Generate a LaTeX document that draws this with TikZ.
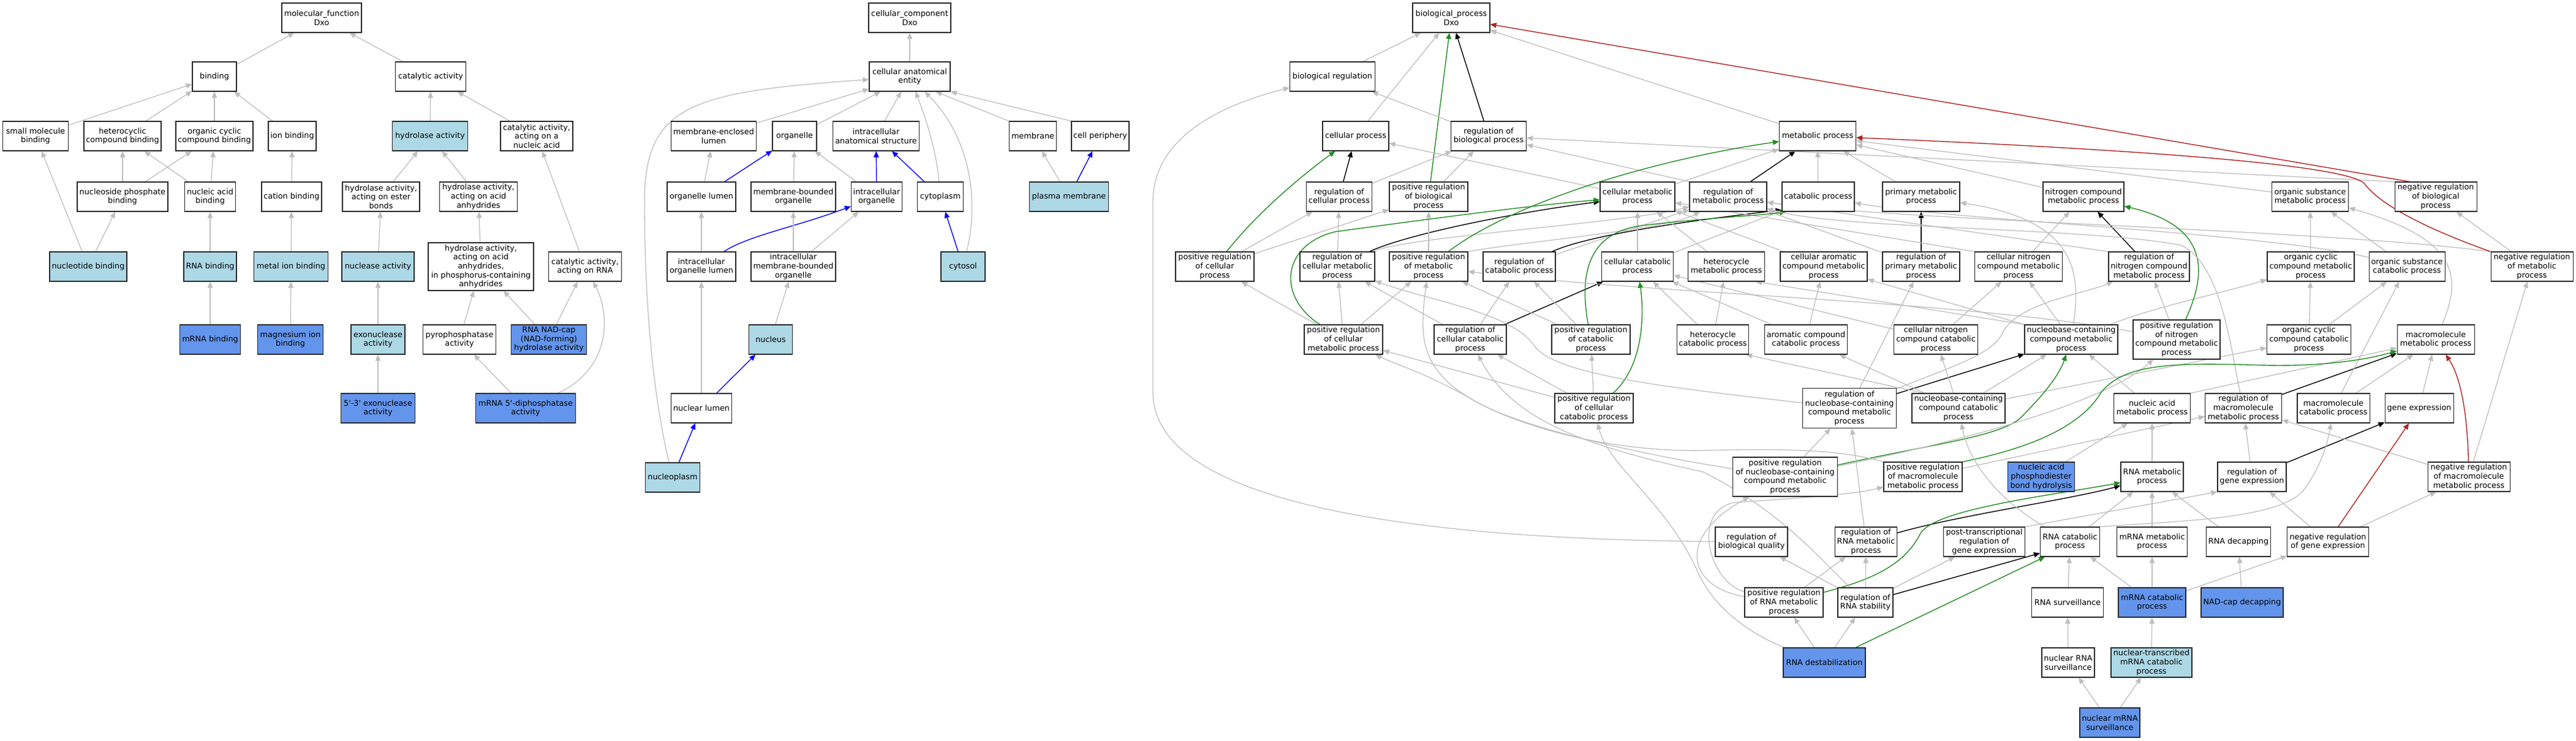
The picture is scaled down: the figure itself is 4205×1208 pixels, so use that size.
\documentclass[tikz,border=0pt]{standalone}
\usepackage{fontspec}
\newfontfamily\gvfam{DejaVu Sans}
\usetikzlibrary{arrows.meta}
\definecolor{egray}{RGB}{190,190,190}
\definecolor{lbcol}{RGB}{173,216,230}
\definecolor{dbcol}{RGB}{100,149,237}
\definecolor{fgreen}{RGB}{34,139,34}
\definecolor{fred}{RGB}{178,34,34}
\definecolor{pblue}{RGB}{0,0,255}
\definecolor{bord}{RGB}{40,40,40}
\newcommand\gvf{\gvfam\fontsize{12.8pt}{14.6pt}\selectfont}
\pgfdeclarelayer{bgl}
\pgfdeclarelayer{edges}
\pgfsetlayers{bgl,edges,main}
\tikzset{
 gn/.style={draw=bord, line width=1.1pt, fill=white, rectangle, align=center, inner sep=1pt, minimum height=48pt, font=\gvf},
 lb/.style={fill=lbcol},
 db/.style={fill=dbcol},
 bw/.style={minimum width=#1pt},
 bh/.style={minimum height=#1pt},
 tipa/.style={-{Triangle[length=10pt,width=8.5pt]}},
 isa/.style={draw=egray, line width=1.3pt, tipa},
 pof/.style={draw=pblue, line width=1.4pt, tipa},
 rgl/.style={draw=black, line width=1.4pt, tipa},
 prg/.style={draw=fgreen, line width=1.4pt, tipa},
 nrg/.style={draw=fred, line width=1.4pt, tipa}
}
\begin{document}
\begin{tikzpicture}[x=1pt,y=-1pt]
\useasboundingbox (0,0) rectangle (4205,1208);
\begin{pgfonlayer}{bgl}\fill[white] (0,0) rectangle (4205,1208);\end{pgfonlayer}
% ---------------- molecular function
\node[gn,bw=130] (mf) at (525,29) {molecular\_function\\Dxo};
\node[gn,bw=72] (binding) at (350,125) {binding};
\node[gn,bw=115] (catact) at (703,125) {catalytic activity};
\node[gn,bw=107] (smb) at (58,222) {small molecule\\binding};
\node[gn,bw=126] (hcb) at (200,222) {heterocyclic\\compound binding};
\node[gn,bw=126] (occb) at (350,222) {organic cyclic\\compound binding};
\node[gn,bw=78] (ionb) at (477,222) {ion binding};
\node[gn,lb,bw=123] (hydro) at (702,222) {hydrolase activity};
\node[gn,bw=118] (canuc) at (876,222) {catalytic activity,\\acting on a\\nucleic acid};
\node[gn,bw=148] (npb) at (200,321) {nucleoside phosphate\\binding};
\node[gn,bw=83] (nab) at (343,321) {nucleic acid\\binding};
\node[gn,bw=98] (catb) at (476,321) {cation binding};
\node[gn,bw=126] (hester) at (622,321) {hydrolase activity,\\acting on ester\\bonds};
\node[gn,bw=127] (hacid) at (781,321) {hydrolase activity,\\acting on acid\\anhydrides};
\node[gn,lb,bw=126] (ntb) at (144,435) {nucleotide binding};
\node[gn,lb,bw=86] (rnab) at (343,435) {RNA binding};
\node[gn,lb,bw=121] (mib) at (475,435) {metal ion binding};
\node[gn,lb,bw=118] (nuclease) at (617,435) {nuclease activity};
\node[gn,bw=172,bh=78] (hphos) at (785,435) {hydrolase activity,\\acting on acid\\anhydrides,\\in phosphorus-containing\\anhydrides};
\node[gn,bw=119] (carna) at (955,435) {catalytic activity,\\acting on RNA};
\node[gn,db,bw=99] (mrnab) at (343,554) {mRNA binding};
\node[gn,db,bw=107] (mgb) at (474,554) {magnesium ion\\binding};
\node[gn,lb,bw=88] (exo) at (617,554) {exonuclease\\activity};
\node[gn,bw=119] (pyro) at (750,554) {pyrophosphatase\\activity};
\node[gn,db,bw=123] (nadcaph) at (896,554) {RNA NAD-cap\\(NAD-forming)\\hydrolase activity};
\node[gn,db,bw=121] (exo53) at (617,666) {5'-3' exonuclease\\activity};
\node[gn,db,bw=163] (mdiph) at (858,666) {mRNA 5'-diphosphatase\\activity};
% ---------------- cellular component
\node[gn,bw=134] (cc) at (1485,29) {cellular\_component\\Dxo};
\node[gn,bw=132] (cae) at (1485,125) {cellular anatomical\\entity};
\node[gn,bw=139] (mel) at (1165,222) {membrane-enclosed\\lumen};
\node[gn,bw=72] (organelle) at (1297,222) {organelle};
\node[gn,bw=141] (ias) at (1430,222) {intracellular\\anatomical structure};
\node[gn,bw=77] (membrane) at (1686,222) {membrane};
\node[gn,bw=94] (cellper) at (1796,222) {cell periphery};
\node[gn,bw=112] (olumen) at (1145,321) {organelle lumen};
\node[gn,bw=138] (mbo) at (1295,321) {membrane-bounded\\organelle};
\node[gn,bw=83] (io) at (1431,321) {intracellular\\organelle};
\node[gn,bw=75] (cytoplasm) at (1535,321) {cytoplasm};
\node[gn,lb,bw=129] (pm) at (1745,321) {plasma membrane};
\node[gn,bw=112] (iol) at (1145,435) {intracellular\\organelle lumen};
\node[gn,bw=138] (imbo) at (1295,435) {intracellular\\membrane-bounded\\organelle};
\node[gn,lb,bw=72] (cytosol) at (1572,435) {cytosol};
\node[gn,lb,bw=71] (nucleus) at (1258,554) {nucleus};
\node[gn,bw=99] (nlumen) at (1145,666) {nuclear lumen};
\node[gn,lb,bw=89] (nucleoplasm) at (1098,779) {nucleoplasm};
% ---------------- biological process
\node[gn,bw=126] (bp) at (2369,29) {biological\_process\\Dxo};
\node[gn,bw=139] (breg) at (2175,125) {biological regulation};
\node[gn,bw=108] (cp) at (2213,222) {cellular process};
\node[gn,bw=123] (rbp) at (2430,222) {regulation of\\biological process};
\node[gn,bw=125] (mp) at (2967,222) {metabolic process};
\node[gn,bw=107] (rcp) at (2186,321) {regulation of\\cellular process};
\node[gn,bw=128] (prbp) at (2332,321) {positive regulation\\of biological\\process};
\node[gn,bw=122] (cmp) at (2673,321) {cellular metabolic\\process};
\node[gn,bw=126] (rmp) at (2821,321) {regulation of\\metabolic process};
\node[gn,bw=118] (cat) at (2968,321) {catabolic process};
\node[gn,bw=126] (pmp) at (3136,321) {primary metabolic\\process};
\node[gn,bw=132] (ncmp) at (3401,321) {nitrogen compound\\metabolic process};
\node[gn,bw=125] (osmp) at (3771,321) {organic substance\\metabolic process};
\node[gn,bw=134] (nrbp) at (3976,321) {negative regulation\\of biological\\process};
\node[gn,bw=128] (prcp) at (1983,435) {positive regulation\\of cellular\\process};
\node[gn,bw=122] (rcmp) at (2183,435) {regulation of\\cellular metabolic\\process};
\node[gn,bw=128] (prmp) at (2332,435) {positive regulation\\of metabolic\\process};
\node[gn,bw=118] (rcat) at (2480,435) {regulation of\\catabolic process};
\node[gn,bw=117] (ccat) at (2673,435) {cellular catabolic\\process};
\node[gn,bw=125] (hmp) at (2818,435) {heterocycle\\metabolic process};
\node[gn,bw=142] (camp) at (2977,435) {cellular aromatic\\compound metabolic\\process};
\node[gn,bw=126] (rpmp) at (3136,435) {regulation of\\primary metabolic\\process};
\node[gn,bw=143] (cnmp) at (3295,435) {cellular nitrogen\\compound metabolic\\process};
\node[gn,bw=132] (rncmp) at (3508,435) {regulation of\\nitrogen compound\\metabolic process};
\node[gn,bw=142] (occmp) at (3772,435) {organic cyclic\\compound metabolic\\process};
\node[gn,bw=124] (oscat) at (3929,435) {organic substance\\catabolic process};
\node[gn,bw=134] (nrmp) at (4133,435) {negative regulation\\of metabolic\\process};
\node[gn,bw=128] (prcmp) at (2193,554) {positive regulation\\of cellular\\metabolic process};
\node[gn,bw=118] (rccat) at (2400,554) {regulation of\\cellular catabolic\\process};
\node[gn,bw=128] (prcat) at (2597,554) {positive regulation\\of catabolic\\process};
\node[gn,bw=117] (hcat) at (2796,554) {heterocycle\\catabolic process};
\node[gn,bw=135] (acat) at (2948,554) {aromatic compound\\catabolic process};
\node[gn,bw=137] (cncat) at (3160,554) {cellular nitrogen\\compound catabolic\\process};
\node[gn,bw=152] (nbmp) at (3381,554) {nucleobase-containing\\compound metabolic\\process};
\node[gn,bw=142,bh=64] (prncmp) at (3553,554) {positive regulation\\of nitrogen\\compound metabolic\\process};
\node[gn,bw=137] (occat) at (3769,554) {organic cyclic\\compound catabolic\\process};
\node[gn,bw=126] (mmp) at (3976,554) {macromolecule\\metabolic process};
\node[gn,bw=128] (prccat) at (2602,666) {positive regulation\\of cellular\\catabolic process};
\node[gn,bw=153,bh=65] (rnbmp) at (3019,666) {regulation of\\nucleobase-containing\\compound metabolic\\process};
\node[gn,bw=152] (nbcat) at (3197,666) {nucleobase-containing\\compound catabolic\\process};
\node[gn,bw=125] (namp) at (3513,666) {nucleic acid\\metabolic process};
\node[gn,bw=125] (rmmp) at (3662,666) {regulation of\\macromolecule\\metabolic process};
\node[gn,bw=118] (mcat) at (3809,666) {macromolecule\\catabolic process};
\node[gn,bw=112] (ge) at (3949,666) {gene expression};
\node[gn,bw=171,bh=64] (prnbmp) at (2914,778) {positive regulation\\of nucleobase-containing\\compound metabolic\\process};
\node[gn,bw=128] (prmmp) at (3139,778) {positive regulation\\of macromolecule\\metabolic process};
\node[gn,db,bw=109] (napbh) at (3332,778) {nucleic acid\\phosphodiester\\bond hydrolysis};
\node[gn,bw=102] (rnamp) at (3513,778) {RNA metabolic\\process};
\node[gn,bw=112] (rge) at (3676,778) {regulation of\\gene expression};
\node[gn,bw=134] (nrmmp) at (4030,778) {negative regulation\\of macromolecule\\metabolic process};
\node[gn,bw=118] (rbq) at (2859,884) {regulation of\\biological quality};
\node[gn,bw=101] (rrnamp) at (3046,884) {regulation of\\RNA metabolic\\process};
\node[gn,bw=133] (ptrge) at (3239,884) {post-transcriptional\\regulation of\\gene expression};
\node[gn,bw=97] (rnacat) at (3379,884) {RNA catabolic\\process};
\node[gn,bw=115] (mrnamp) at (3513,884) {mRNA metabolic\\process};
\node[gn,bw=105] (rnadecap) at (3654,884) {RNA decapping};
\node[gn,bw=133] (nrge) at (3800,884) {negative regulation\\of gene expression};
\node[gn,bw=128] (prrnamp) at (2912,983) {positive regulation\\of RNA metabolic\\process};
\node[gn,bw=90] (rrnastab) at (3045,983) {regulation of\\RNA stability};
\node[gn,bw=117] (rnasurv) at (3375,983) {RNA surveillance};
\node[gn,db,bw=110] (mrnacat) at (3513,983) {mRNA catabolic\\process};
\node[gn,db,bw=134] (nadcap) at (3660,983) {NAD-cap decapping};
\node[gn,db,bw=134] (rnadest) at (2978,1081) {RNA destabilization};
\node[gn,bw=86] (nrnasurv) at (3376,1081) {nuclear RNA\\surveillance};
\node[gn,lb,bw=132] (ntmrnacat) at (3512,1081) {nuclear-transcribed\\mRNA catabolic\\process};
\node[gn,db,bw=98] (nmrnasurv) at (3444,1179) {nuclear mRNA\\surveillance};

\begin{pgfonlayer}{edges}
% ---- MF edges
\draw[isa] (binding) -- (mf);
\draw[isa] (catact) -- (mf);
\draw[isa] (smb) -- (binding);
\draw[isa] (hcb) -- (binding);
\draw[isa] (occb) -- (binding);
\draw[isa] (ionb) -- (binding);
\draw[isa] (hydro) -- (catact);
\draw[isa] (canuc) -- (catact);
\draw[isa] (npb) -- (hcb);
\draw[isa] (npb) -- (occb);
\draw[isa] (nab) -- (hcb);
\draw[isa] (nab) -- (occb);
\draw[isa] (catb) -- (ionb);
\draw[isa] (hester) -- (hydro);
\draw[isa] (hacid) -- (hydro);
\draw[isa] (ntb) -- (smb);
\draw[isa] (ntb) -- (npb);
\draw[isa] (rnab) -- (nab);
\draw[isa] (mib) -- (catb);
\draw[isa] (nuclease) -- (hester);
\draw[isa] (hphos) -- (hacid);
\draw[isa] (carna) -- (canuc);
\draw[isa] (mrnab) -- (rnab);
\draw[isa] (mgb) -- (mib);
\draw[isa] (exo) -- (nuclease);
\draw[isa] (pyro) -- (hphos);
\draw[isa] (nadcaph) -- (hphos);
\draw[isa] (nadcaph) -- (carna);
\draw[isa] (exo53) -- (exo);
\draw[isa] (mdiph) -- (pyro);
\draw[isa] (mdiph) .. controls (1000,600) and (995,510) .. (carna);
% ---- CC edges
\draw[isa] (cae) -- (cc);
\draw[isa] (mel) -- (cae);
\draw[isa] (organelle) -- (cae);
\draw[isa] (ias) -- (cae);
\draw[isa] (membrane.north west) -- (cae.-30);
\draw[isa] (cellper.north west) -- (cae.south east);
\draw[isa] (cytoplasm) .. controls (1528,240) and (1508,185) .. (cae);
\draw[isa] (cytosol) .. controls (1600,320) and (1580,220) .. (cae);
\draw[isa] (nucleoplasm) .. controls (1060,620) and (1052,450) .. (1052,330) .. controls (1052,170) and (1130,150) .. (cae);
\draw[isa] (olumen) -- (mel);
\draw[pof] (olumen) -- (organelle);
\draw[isa] (mbo) -- (organelle);
\draw[isa] (io) -- (organelle);
\draw[pof] (io) -- (ias);
\draw[pof] (cytoplasm) -- (ias);
\draw[isa] (pm) -- (membrane);
\draw[pof] (pm) -- (cellper);
\draw[isa] (iol) -- (olumen);
\draw[pof] (iol) .. controls (1220,385) and (1300,370) .. (io);
\draw[isa] (imbo) -- (mbo);
\draw[isa] (imbo) -- (io);
\draw[pof] (cytosol) -- (cytoplasm);
\draw[isa] (nucleus) -- (imbo);
\draw[isa] (nlumen) -- (iol);
\draw[pof] (nlumen) -- (nucleus);
\draw[pof] (nucleoplasm) -- (nlumen);
% ---- BP edges
\draw[isa] (breg) -- (bp);
\draw[isa] (cp) -- (bp);
\draw[prg] (prbp) -- (bp);
\draw[rgl] (rbp) -- (bp);
\draw[isa] (mp) -- (bp);
\draw[nrg] (nrbp.150) -- (bp);
\draw[isa] (rbp) -- (breg);
\draw[rgl] (rcp) -- (cp);
\draw[isa] (rcp) -- (rbp);
\draw[isa] (prbp) -- (rbp);
\draw[isa] (cmp) -- (cp);
\draw[isa] (cmp) -- (mp);
\draw[isa] (rmp.north west) -- (rbp);
\draw[rgl] (rmp) -- (mp);
\draw[isa] (cat) -- (mp);
\draw[isa] (pmp) -- (mp);
\draw[isa] (ncmp) -- (mp);
\draw[isa] (osmp) -- (mp);
\draw[isa] (nrbp.160) -- (rbp);
\draw[prg] (prcp) .. controls (2050,350) and (2120,290) .. (cp);
\draw[isa] (prcp) -- (rcp);
\draw[isa] (prcp) -- (prbp);
\draw[isa] (rcmp) -- (rcp);
\draw[rgl] (rcmp) .. controls (2290,385) and (2450,350) .. (cmp);
\draw[isa] (rcmp) .. controls (2300,385) and (2650,365) .. (rmp);
\draw[isa] (prmp) -- (prbp);
\draw[prg] (prmp) .. controls (2470,330) and (2700,260) .. (mp);
\draw[isa] (prmp.north east) .. controls (2480,395) and (2720,375) .. (rmp);
\draw[isa] (rcat) -- (rmp);
\draw[rgl] (rcat) .. controls (2600,380) and (2800,355) .. (cat.200);
\draw[isa] (ccat) -- (cmp);
\draw[isa] (ccat) -- (cat);
\draw[isa] (hmp) -- (cmp);
\draw[isa] (camp) -- (cmp);
\draw[isa] (rpmp) -- (rmp);
\draw[rgl] (rpmp) -- (pmp);
\draw[isa] (cnmp.north west) -- (cmp);
\draw[isa] (cnmp) -- (ncmp);
\draw[isa] (rncmp.north west) -- (rmp);
\draw[rgl] (rncmp) -- (ncmp);
\draw[isa] (occmp) -- (osmp);
\draw[isa] (oscat) -- (osmp);
\draw[isa] (oscat) .. controls (3700,380) and (3200,360) .. (cat);
\draw[isa] (nrmp) -- (nrbp);
\draw[isa] (nrmp.north west) .. controls (3800,375) and (3100,360) .. (rmp);
\draw[nrg] (nrmp.north west) .. controls (3980,380) and (3890,340) .. (3860,300) .. controls (3830,265) and (3400,240) .. (mp);
% row 554
\draw[isa] (prcmp) -- (prcp);
\draw[prg] (prcmp) .. controls (2085,485) and (2090,400) .. (2180,378) .. controls (2350,355) and (2500,335) .. (cmp);
\draw[isa] (prcmp) -- (rcmp);
\draw[isa] (prcmp) -- (prmp);
\draw[isa] (rccat) -- (rcmp);
\draw[isa] (rccat) -- (rcat);
\draw[rgl] (rccat) -- (ccat);
\draw[isa] (prcat) -- (prmp);
\draw[isa] (prcat) -- (rcat);
\draw[prg] (prcat) .. controls (2578,450) and (2590,380) .. (2680,368) .. controls (2790,355) and (2870,352) .. (cat.205);
\draw[isa] (hcat) -- (hmp);
\draw[isa] (hcat) -- (ccat);
\draw[isa] (acat) -- (camp);
\draw[isa] (acat) -- (ccat);
\draw[isa] (cncat) -- (cnmp);
\draw[isa] (cncat) -- (ccat);
\draw[isa] (nbmp.north west) -- ([xshift=-15pt]hmp.south east);
\draw[isa] (nbmp.north west) -- (camp);
\draw[isa] (nbmp) -- (cnmp);
\draw[isa] (nbmp) .. controls (3396,450) and (3395,360) .. (pmp);
\draw[isa] (nbmp) .. controls (3520,500) and (3620,480) .. (occmp);
\draw[isa] (prncmp) -- (rncmp);
\draw[prg] (prncmp) .. controls (3600,450) and (3612,370) .. (ncmp);
\draw[isa] (prncmp) .. controls (3200,490) and (2700,480) .. (prmp);
\draw[isa] (occat) -- (occmp);
\draw[isa] (occat) -- (oscat);
\draw[isa] (mmp) .. controls (4020,450) and (4012,390) .. (osmp);
% row 666
\draw[isa] (prccat) -- (prcmp);
\draw[isa] (prccat) -- (rccat);
\draw[isa] (prccat) -- (prcat);
\draw[prg] ([xshift=31pt]prccat.north) .. controls (2680,600) and (2685,520) .. (ccat);
\draw[isa] (rnbmp) -- (rpmp);
\draw[rgl] (rnbmp) -- (nbmp);
\draw[isa] (rnbmp) .. controls (2700,630) and (2540,610) .. (2505,565) .. controls (2470,510) and (2330,490) .. (rcmp);
\draw[isa] (rnbmp) .. controls (3180,600) and (3250,580) .. (3268,545) .. controls (3290,495) and (3400,480) .. (rncmp);
\draw[isa] ([xshift=20pt]nbcat.north west) -- ([xshift=-5pt]hcat.south east);
\draw[isa] (nbcat) -- (acat);
\draw[isa] (nbcat) -- (cncat);
\draw[isa] (nbcat) -- (nbmp);
\draw[isa] (nbcat) -- (occat);
\draw[isa] (namp) -- (nbmp);
\draw[isa] (namp.north east) -- (mmp);
\draw[isa] (rmmp) .. controls (3640,560) and (3625,430) .. (3560,400) .. controls (3400,370) and (3000,375) .. (rmp);
\draw[rgl] (rmmp) -- (mmp);
\draw[isa] (mcat) -- (mmp);
\draw[isa] (mcat) -- (oscat);
\draw[isa] (ge) -- (mmp);
% row 778
\draw[isa] (prnbmp) -- (rnbmp);
\draw[prg] (prnbmp) .. controls (3150,725) and (3270,712) .. (3300,680) .. controls (3340,640) and (3362,610) .. (nbmp);
\draw[isa] (prnbmp) .. controls (2700,745) and (2480,700) .. (2400,650) .. controls (2330,610) and (2280,595) .. (prcmp);
\draw[isa] (prnbmp) .. controls (3200,720) and (3430,660) .. (prncmp);
\draw[isa] (prmmp.north west) .. controls (3000,732) and (2900,732) .. (2780,735) .. controls (2600,738) and (2420,680) .. (2360,620) .. controls (2320,580) and (2318,540) .. (prmp);
\draw[isa] (prmmp) -- (rmmp);
\draw[prg] (prmmp.north east) .. controls (3330,728) and (3400,690) .. (3430,640) .. controls (3470,590) and (3560,592) .. (3700,596) .. controls (3800,598) and (3870,585) .. (mmp);
\draw[isa] (napbh) -- (namp);
\draw[isa] (rnamp) -- (namp);
\draw[isa] (rge) -- (rmmp);
\draw[rgl] (rge) -- (ge);
\draw[isa] (nrmmp) -- (rmmp);
\draw[isa] (nrmmp) -- (nrmp);
\draw[nrg] (nrmmp) .. controls (4028,690) and (4020,620) .. (mmp);
% row 884
\draw[isa] (rbq) .. controls (2300,880) and (1882,820) .. (1882,640) -- (1882,330) .. controls (1882,220) and (2000,170) .. (breg);
\draw[isa] (rrnamp) -- (rnbmp);
\draw[rgl] (rrnamp) .. controls (3200,840) and (3380,815) .. (rnamp);
\draw[isa] (ptrge.north east) -- (rge.south west);
\draw[isa] (rnacat) -- (rnamp);
\draw[isa] (rnacat) .. controls (3270,820) and (3215,760) .. (nbcat);
\draw[isa] (rnacat.north east) .. controls (3550,850) and (3720,848) .. (3760,800) .. controls (3790,760) and (3800,720) .. (mcat);
\draw[isa] (mrnamp) -- (rnamp);
\draw[isa] (rnadecap) -- (rnamp);
\draw[isa] (nrge) -- (rge);
\draw[isa] (nrge) -- (nrmmp);
\draw[nrg] (nrge) -- (ge);
% row 983
\draw[isa] (prrnamp) -- (rrnamp);
\draw[isa] (prrnamp) .. controls (2760,960) and (2730,880) .. (prnbmp);
\draw[isa] (prrnamp) .. controls (2790,950) and (2760,835) .. (2830,820) .. controls (2950,812) and (3030,806) .. (prmmp);
\draw[prg] (prrnamp) .. controls (3060,945) and (3110,920) .. (3135,870) .. controls (3160,830) and (3350,808) .. (rnamp);
\draw[isa] (rrnastab) -- (rbq);
\draw[isa] (rrnastab) -- (rrnamp);
\draw[isa] (rrnastab) -- (ptrge);
\draw[rgl] (rrnastab) -- ([yshift=6pt]rnacat.south west);
\draw[isa] (rrnastab) .. controls (2960,900) and (2900,830) .. (2780,770) .. controls (2600,730) and (2470,690) .. (rccat);
\draw[isa] (rnasurv) -- (rnacat);
\draw[isa] (mrnacat) -- (mrnamp);
\draw[isa] (mrnacat) -- (rnacat);
\draw[isa] (mrnacat) -- (nrge);
\draw[isa] (nadcap) -- (rnadecap);
% row 1081
\draw[isa] (rnadest) -- (prrnamp);
\draw[isa] (rnadest) -- (rrnastab);
\draw[prg] (rnadest) -- ([xshift=8pt]rnacat.south west);
\draw[isa] (rnadest) .. controls (2870,1040) and (2800,1000) .. (2770,930) .. controls (2720,820) and (2625,760) .. (prccat);
\draw[isa] (nrnasurv) -- (rnasurv);
\draw[isa] (ntmrnacat) -- (mrnacat);
\draw[isa] (nmrnasurv) -- (nrnasurv);
\draw[isa] (nmrnasurv) -- (ntmrnacat);
\end{pgfonlayer}
\end{tikzpicture}
\end{document}
